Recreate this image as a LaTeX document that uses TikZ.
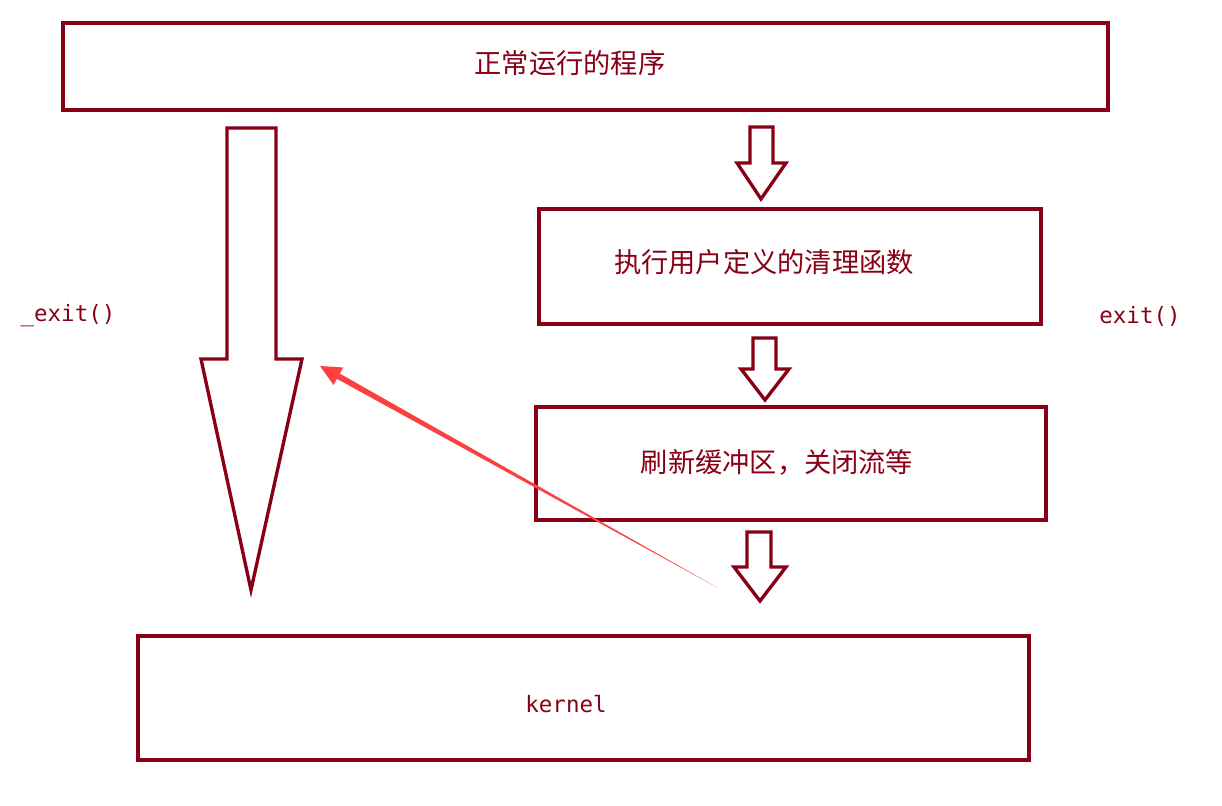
\documentclass[tikz,border=0pt]{standalone}
\usepackage{fontspec}
\newfontfamily\cjk{Noto Sans CJK SC}
\newfontfamily\monofont{DejaVu Sans Mono}
\usetikzlibrary{positioning,calc}

\definecolor{paintred}{RGB}{136,0,21}
\definecolor{markred}{RGB}{250,64,64}

\begin{document}
\begin{tikzpicture}[
    box/.style={rectangle, draw=paintred, line width=1.9pt, minimum width=#1},
    cn/.style={text=paintred, font=\cjk\fontsize{15.5}{18}\selectfont},
    code/.style={text=paintred, font=\monofont\fontsize{12.8}{15}\selectfont},
    blockarr/.style={draw=paintred, line width=1.9pt, line join=miter},
]
\useasboundingbox (0,0) rectangle (24.44,16.12);

% Boxes
\node[box=20.9cm, minimum height=1.74cm] (run) at (11.71,14.79) {};
\node[box=10.04cm, minimum height=2.30cm] (clean) at (15.80,10.79) {};
\node[box=10.2cm, minimum height=2.26cm] (flush) at (15.82,6.85) {};
\node[box=17.82cm, minimum height=2.48cm] (kernel) at (11.67,2.16) {};

% Box texts
\node[cn] (runtxt) at ([xshift=-0.31cm, yshift=0.07cm]run.center) {正常运行的程序};
\node[cn] (cleantxt) at ([xshift=-0.52cm, yshift=0.09cm]clean.center) {执行用户定义的清理函数};
\node[cn] (flushtxt) at ([xshift=-0.28cm, yshift=0.03cm]flush.center) {刷新缓冲区，关闭流等};
\node[code] (kerneltxt) at ([xshift=-0.35cm, yshift=-0.12cm]kernel.center) {kernel};

% Side labels
\node[code] (fastexit) at (1.36,9.80) {\_exit()};
\node[code] (normexit) at (22.80,9.80) {exit()};

% Big arrow (_exit)
\draw[blockarr] (4.54,13.56) -- (5.52,13.56) -- (5.52,8.94) -- (6.04,8.94)
    -- (5.02,4.32) -- (4.02,8.94) -- (4.54,8.94) -- cycle;

% Small arrows (exit)
\draw[blockarr] (15.00,13.58) -- (15.46,13.58) -- (15.46,12.86) -- (15.72,12.86)
    -- (15.22,12.14) -- (14.74,12.86) -- (15.00,12.86) -- cycle;
\draw[blockarr] (15.06,9.36) -- (15.52,9.36) -- (15.52,8.74) -- (15.78,8.74)
    -- (15.30,8.12) -- (14.82,8.74) -- (15.06,8.74) -- cycle;
\draw[blockarr] (14.94,5.48) -- (15.42,5.48) -- (15.42,4.78) -- (15.72,4.78)
    -- (15.20,4.10) -- (14.68,4.78) -- (14.94,4.78) -- cycle;

% Red marker arrow
\coordinate (tail) at (14.36,4.36);
\coordinate (tip) at (6.40,8.80);
\coordinate (base) at ($(tip)!0.42cm!(tail)$);
\fill[markred] (tail)
    -- ($(base)!0.06cm!90:(tip)$) -- ($(base)!0.2cm!90:(tip)$) -- (tip)
    -- ($(base)!0.2cm!-90:(tip)$) -- ($(base)!0.06cm!-90:(tip)$) -- cycle;

\end{tikzpicture}
\end{document}
